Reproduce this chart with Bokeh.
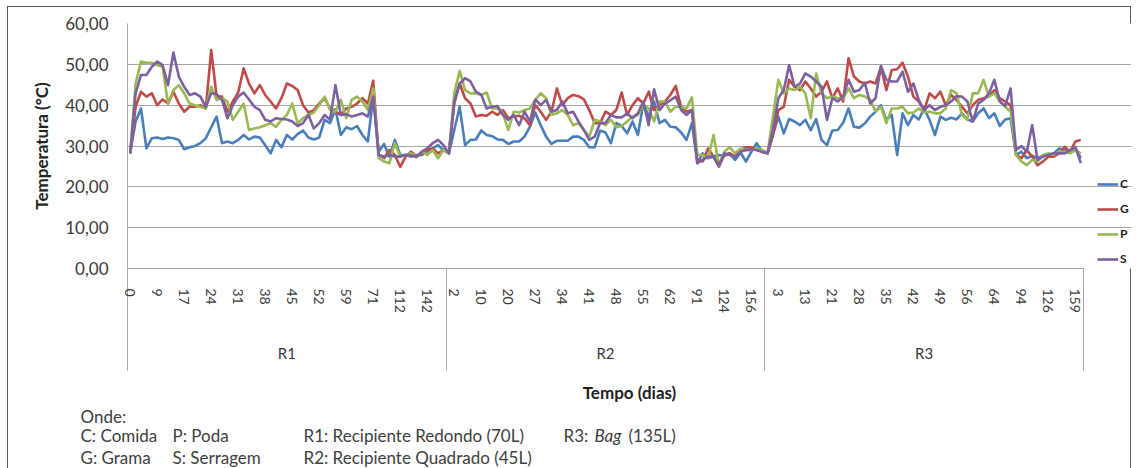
import numpy as np
from bokeh.plotting import figure
from bokeh.layouts import column
from bokeh.models import (Range1d, LinearAxis, FixedTicker, Legend, LegendItem,
                          ColumnDataSource)
from bokeh.core.properties import value
from bokeh.embed import file_html
from bokeh.resources import INLINE

# ---------------- data ----------------
groups = ["R1", "R2", "R3"]
points_per_group = 59
label_every = 5
day_labels_r1 = ["0", "9", "17", "24", "31", "38", "45", "52", "59", "71", "112", "142"]
day_labels_r2 = ["2", "10", "20", "27", "34", "41", "48", "55", "62", "91", "124", "156"]
day_labels_r3 = ["3", "13", "21", "28", "35", "42", "49", "56", "64", "94", "126", "159"]
y_ticks = [0, 10, 20, 30, 40, 50, 60]

C_r1 = [28.2, 36.0, 39.2, 29.4, 31.9, 32.1, 31.7, 32.1, 31.9, 31.5,
        29.2, 29.7, 30.0, 30.7, 31.9, 34.6, 37.2, 30.7, 31.1, 30.7,
        31.5, 32.7, 31.6, 32.3, 32.1, 30.2, 28.2, 31.5, 29.7, 32.7,
        31.6, 32.9, 33.8, 32.1, 31.6, 32.1, 36.4, 35.6, 39.0, 32.7,
        34.6, 34.1, 34.9, 32.7, 31.1, 42.1, 28.6, 30.5, 27.4, 31.5,
        27.8, 27.8, 27.4, 27.8, 27.8, 28.6, 29.4, 30.2, 29.0]
G_r1 = [28.2, 39.6, 43.3, 42.1, 42.9, 40.0, 41.4, 40.4, 43.3, 40.4,
        38.4, 39.6, 39.6, 40.0, 39.2, 53.5, 42.1, 42.1, 38.4, 40.9,
        43.1, 49.0, 45.3, 42.9, 44.9, 42.5, 40.9, 39.2, 41.7, 45.3,
        44.7, 43.7, 40.0, 38.2, 38.8, 40.4, 41.7, 39.2, 38.4, 37.6,
        39.2, 39.6, 40.4, 41.7, 40.4, 46.0, 27.8, 27.0, 29.0, 27.8,
        24.9, 27.4, 28.6, 27.4, 28.2, 29.0, 29.4, 28.2, 29.0]
P_r1 = [28.2, 45.3, 50.7, 50.4, 50.4, 49.8, 49.4, 40.4, 43.7, 44.9,
        42.9, 40.4, 40.0, 39.6, 39.2, 44.5, 41.3, 41.7, 40.9, 36.4,
        38.4, 40.4, 33.9, 34.3, 34.6, 35.1, 35.6, 34.7, 36.4, 37.6,
        40.4, 35.6, 36.8, 37.6, 38.2, 40.0, 42.1, 38.8, 38.4, 41.3,
        36.8, 41.3, 42.1, 40.9, 38.8, 44.1, 27.0, 26.2, 25.8, 30.7,
        27.4, 27.8, 28.2, 27.2, 28.6, 27.8, 29.0, 27.0, 29.0]
S_r1 = [28.2, 42.9, 47.4, 47.4, 49.4, 50.7, 49.8, 44.9, 52.9, 47.0,
        44.5, 42.5, 42.9, 42.1, 39.6, 42.9, 42.7, 41.3, 36.8, 40.0,
        42.1, 43.1, 41.4, 39.6, 38.8, 36.4, 36.0, 36.8, 36.6, 36.5,
        36.0, 34.9, 35.6, 37.6, 34.3, 35.6, 37.6, 36.4, 44.9, 37.6,
        37.8, 37.2, 37.6, 38.0, 37.2, 42.1, 27.8, 27.4, 27.8, 27.4,
        27.4, 27.8, 27.6, 27.4, 28.6, 29.4, 30.7, 31.5, 30.2]

C_r2 = [28.2, 33.9, 39.6, 30.2, 31.5, 31.6, 33.8, 32.7, 32.4, 31.6,
        31.5, 30.5, 31.1, 31.1, 32.3, 34.7, 38.2, 35.1, 32.3, 30.5,
        31.3, 31.3, 31.3, 32.3, 32.3, 31.5, 29.7, 29.7, 33.8, 33.3,
        30.7, 35.6, 34.9, 33.1, 36.0, 32.7, 40.4, 37.2, 40.9, 35.6,
        36.4, 34.7, 34.6, 33.3, 31.5, 35.6, 25.8, 28.2, 27.0, 27.4,
        27.8, 27.6, 28.2, 26.6, 28.4, 26.2, 28.6, 30.7, 28.6]
G_r2 = [28.2, 40.4, 45.3, 41.7, 40.4, 37.2, 37.6, 37.4, 38.4, 37.6,
        38.8, 36.8, 37.2, 37.4, 36.8, 35.1, 40.0, 38.4, 36.4, 38.4,
        44.1, 40.0, 41.7, 42.5, 42.2, 41.4, 38.8, 35.6, 35.6, 38.4,
        37.6, 38.8, 43.1, 37.6, 40.0, 41.7, 40.4, 43.3, 38.8, 40.0,
        40.9, 42.5, 44.7, 39.6, 38.4, 38.8, 26.6, 26.2, 29.4, 27.4,
        24.9, 27.8, 28.2, 27.4, 29.0, 29.7, 29.7, 29.0, 29.0]
P_r2 = [28.2, 42.9, 48.4, 43.7, 42.9, 42.9, 42.5, 43.1, 39.2, 39.2,
        38.0, 33.9, 38.4, 38.2, 38.8, 39.2, 41.3, 42.9, 41.7, 37.6,
        38.0, 38.8, 37.6, 35.1, 35.6, 33.9, 32.3, 36.4, 36.0, 35.1,
        36.4, 34.6, 34.9, 36.0, 37.2, 37.6, 40.0, 39.2, 36.0, 40.9,
        40.9, 38.4, 39.6, 39.6, 39.2, 41.9, 27.8, 27.8, 27.0, 32.7,
        25.3, 28.6, 29.7, 28.2, 29.4, 29.0, 29.0, 29.4, 29.0]
S_r2 = [28.2, 40.9, 45.3, 46.6, 45.8, 43.3, 42.5, 39.2, 39.6, 39.8,
        37.6, 36.4, 37.6, 35.1, 38.4, 36.0, 41.4, 40.0, 41.3, 38.4,
        38.8, 40.9, 38.0, 38.4, 36.0, 33.9, 31.5, 32.3, 35.6, 35.6,
        37.6, 37.0, 37.0, 38.0, 36.8, 38.0, 40.9, 35.1, 43.9, 38.8,
        40.4, 41.2, 42.1, 38.8, 37.6, 38.8, 25.8, 26.6, 27.4, 27.4,
        25.3, 28.2, 27.8, 27.2, 28.6, 29.0, 29.2, 29.0, 28.5]

C_r3 = [28.2, 32.7, 37.2, 33.1, 36.6, 36.0, 35.1, 36.4, 33.9, 36.6,
        31.5, 30.2, 33.8, 33.9, 35.7, 39.2, 34.7, 34.5, 35.5, 37.2,
        38.4, 40.0, 36.4, 37.6, 27.8, 38.0, 35.1, 37.6, 36.5, 39.2,
        36.4, 32.7, 37.2, 36.4, 36.9, 36.5, 38.0, 36.5, 36.0, 38.0,
        39.2, 36.8, 38.0, 34.9, 36.5, 36.8, 27.8, 28.6, 27.0, 27.6,
        27.0, 27.6, 27.8, 28.2, 29.4, 29.0, 28.6, 29.4, 27.0]
G_r3 = [28.2, 32.7, 38.8, 39.6, 46.2, 44.5, 43.7, 45.8, 44.1, 42.1,
        43.3, 45.8, 41.7, 44.1, 40.9, 51.5, 47.0, 45.8, 45.3, 45.8,
        45.3, 49.4, 43.7, 48.6, 48.8, 50.4, 47.0, 42.1, 40.9, 38.8,
        42.9, 41.7, 43.3, 40.0, 42.5, 41.3, 39.6, 38.0, 40.0, 41.3,
        41.7, 42.2, 43.7, 41.7, 40.9, 40.0, 27.8, 27.0, 29.0, 27.4,
        25.3, 26.2, 27.4, 27.4, 28.2, 29.8, 28.6, 31.1, 31.5]
P_r3 = [28.2, 37.2, 46.2, 42.9, 44.1, 43.7, 44.5, 42.9, 36.8, 47.8,
        42.9, 41.7, 42.1, 41.7, 41.7, 44.1, 41.7, 42.5, 42.1, 41.4,
        38.4, 39.6, 35.6, 39.2, 39.2, 39.6, 38.0, 38.2, 39.2, 38.2,
        38.4, 38.0, 38.0, 39.2, 43.7, 42.9, 37.6, 36.4, 42.9, 42.9,
        46.2, 42.1, 42.9, 40.9, 39.6, 38.4, 27.8, 26.2, 25.3, 26.6,
        26.2, 27.8, 28.2, 27.8, 28.6, 28.6, 28.2, 29.0, 28.2]
S_r3 = [28.2, 33.9, 41.7, 43.7, 49.8, 44.5, 45.3, 47.8, 47.0, 45.8,
        44.5, 36.4, 41.7, 40.9, 42.1, 46.2, 43.3, 43.7, 45.5, 40.4,
        41.7, 49.6, 46.2, 45.8, 45.8, 48.2, 43.3, 45.3, 41.3, 38.8,
        40.0, 38.8, 39.6, 40.0, 40.9, 42.2, 42.1, 40.9, 36.0, 40.4,
        41.3, 42.9, 46.2, 40.9, 39.8, 44.1, 29.0, 30.0, 28.6, 35.1,
        26.6, 27.4, 27.8, 28.2, 28.2, 28.2, 29.0, 29.8, 25.8]

series_names = ["C", "G", "P", "S"]
series_colors = ["#4A7EBB", "#BE4B48", "#98B954", "#7D60A0"]

# abbreviations shown under the chart
note_title = "Onde:"
note_row1 = ["C: Comida", "P: Poda", "R1: Recipiente  Redondo (70L)"]
note_row2 = ["G: Grama", "S: Serragem", "R2: Recipiente  Quadrado (45L)"]
note_r3 = ["R3: ", "Bag", "(135L)"]

# ---------------- derived ----------------
n_total = points_per_group * len(groups)
idx = np.arange(n_total)
series = {
    "C": C_r1 + C_r2 + C_r3,
    "G": G_r1 + G_r2 + G_r3,
    "P": P_r1 + P_r2 + P_r3,
    "S": S_r1 + S_r2 + S_r3,
}
src = ColumnDataSource(dict(x=idx, **series))

tick_pos = list(range(0, n_total, label_every))
tick_text = day_labels_r1 + day_labels_r2 + day_labels_r3
boundaries = [g * points_per_group - 0.5 for g in range(len(groups) + 1)]
centers = [g * points_per_group + (points_per_group - 1) / 2 for g in range(len(groups))]
x_bounds = (-0.5, n_total - 0.5)

FONT = "Lato"
TXT = "#3a3a3a"
GRID = "#a6a6a6"
EDGE = "#5a5a5a"

# whole chart area is shifted by a small page offset (outer border)
OX, OY = 7, 6
W = 1131 - OX
H_MAIN = 405 - OY
H_NOTES = 63
FRAME_TOP = 23 - OY
FRAME_BOTTOM = 268 - OY
FRAME_LEFT = 127 - OX
DATA_RIGHT = 1083 - OX      # where the category axis ends; legend lives to its right
px_per_cat = (DATA_RIGHT - FRAME_LEFT) / n_total
x_end = x_bounds[1] + (W - DATA_RIGHT) / px_per_cat

p = figure(width=W, height=H_MAIN, output_backend="svg", toolbar_location=None,
           x_range=Range1d(x_bounds[0], x_end), y_range=Range1d(0, 60),
           min_border_left=FRAME_LEFT, min_border_right=0,
           min_border_top=FRAME_TOP, min_border_bottom=H_MAIN - FRAME_BOTTOM,
           x_axis_location=None, y_axis_location=None)
p.frame_align = False
p.outline_line_color = None
p.background_fill_color = "white"
p.border_fill_alpha = 0
p.styles = {"box-shadow": f"inset 1px 1px 0 {EDGE}, inset -1px 0 0 {EDGE}",
            "margin-left": f"{OX}px", "margin-top": f"{OY}px"}

# y axis
yax = LinearAxis(ticker=FixedTicker(ticks=y_ticks),
                 major_label_overrides={float(v): f"{v:.2f}".replace(".", ",") for v in y_ticks},
                 axis_label="Temperatura (°C)")
yax.axis_line_color = GRID
yax.major_tick_line_color = None
yax.minor_tick_line_color = None
yax.major_tick_out = 0
yax.major_label_standoff = 19
yax.major_label_text_font = FONT
yax.major_label_text_font_size = "17px"
yax.major_label_text_color = TXT
yax.axis_label_text_font = FONT
yax.axis_label_text_font_size = "17px"
yax.axis_label_text_font_style = "bold"
yax.axis_label_text_color = "#222222"
yax.axis_label_standoff = 10
p.add_layout(yax, "left")

p.ygrid.ticker = FixedTicker(ticks=y_ticks)
p.ygrid.grid_line_color = GRID
p.ygrid.bounds = x_bounds
p.xgrid.visible = False

# day axis; its long minor ticks are the group separators
SEP_LEN = 102
dax = LinearAxis(ticker=FixedTicker(ticks=tick_pos, minor_ticks=boundaries),
                 major_label_overrides={float(t): s for t, s in zip(tick_pos, tick_text)},
                 bounds=x_bounds)
dax.axis_line_color = GRID
dax.major_tick_line_color = None
dax.major_tick_out = 0
dax.major_tick_in = 0
dax.minor_tick_line_color = GRID
dax.minor_tick_out = SEP_LEN
dax.minor_tick_in = 0
dax.major_label_orientation = "vertical"
dax.major_label_standoff = 20 - SEP_LEN
dax.major_label_text_font = FONT
dax.major_label_text_font_size = "14px"
dax.major_label_text_color = TXT
p.add_layout(dax, "below")

# group axis
gax = LinearAxis(ticker=FixedTicker(ticks=centers),
                 major_label_overrides={float(c): g for c, g in zip(centers, groups)},
                 axis_label="Tempo (dias)", bounds=x_bounds)
gax.axis_line_color = None
gax.major_tick_line_color = None
gax.minor_tick_line_color = None
gax.major_tick_out = 0
gax.major_tick_in = 0
gax.major_label_standoff = 28
gax.major_label_text_font = FONT
gax.major_label_text_font_size = "15px"
gax.major_label_text_color = TXT
gax.axis_label_text_font = FONT
gax.axis_label_text_font_size = "17px"
gax.axis_label_text_font_style = "bold"
gax.axis_label_text_color = "#222222"
gax.axis_label_standoff = 17
p.add_layout(gax, "below")

# lines
items = []
for name, col in zip(series_names, series_colors):
    r = p.line("x", name, source=src, line_color=col, line_width=2.6, line_join="round")
    items.append(LegendItem(label=name, renderers=[r]))

legend = Legend(items=items, location=(1097 - OX - FRAME_LEFT, 2), orientation="vertical")
legend.label_text_font = FONT
legend.label_text_font_size = "12px"
legend.label_text_font_style = "bold"
legend.label_text_color = "#222222"
legend.glyph_width = 21
legend.glyph_height = 14
legend.label_height = 14
legend.label_standoff = 2
legend.spacing = 10
legend.padding = 0
legend.margin = 0
legend.border_line_color = None
legend.background_fill_alpha = 0
p.add_layout(legend)

# notes figure (pixel coordinates, y downwards)
nf = figure(width=W, height=H_NOTES, output_backend="svg", toolbar_location=None,
            x_range=Range1d(0, W), y_range=Range1d(H_NOTES, 0),
            min_border_left=0, min_border_right=0, min_border_top=0, min_border_bottom=0,
            x_axis_location=None, y_axis_location=None)
nf.frame_align = False
nf.outline_line_color = None
nf.grid.visible = False
nf.background_fill_alpha = 0
nf.border_fill_alpha = 0
nf.styles = {"box-shadow": f"inset 1px 0 0 {EDGE}, inset -1px 0 0 {EDGE}",
             "margin-left": f"{OX}px"}

col_x = [80 - OX, 172 - OX, 303 - OX]
row_y = [11, 30, 52]
r3_x = [563 - OX, 594 - OX, 628 - OX]
note_kw = dict(text_font=value(FONT), text_font_size="17px", text_color="#404040",
               text_baseline="middle", text_align="left")
nf.text(x=[col_x[0]], y=[row_y[0]], text=[note_title], **note_kw)
nf.text(x=col_x, y=[row_y[1]] * 3, text=note_row1, **note_kw)
nf.text(x=col_x, y=[row_y[2]] * 3, text=note_row2, **note_kw)
nf.text(x=[r3_x[0], r3_x[2]], y=[row_y[1]] * 2, text=[note_r3[0], note_r3[2]], **note_kw)
nf.text(x=[r3_x[1]], y=[row_y[1]], text=[note_r3[1]], text_font_style="italic", **note_kw)

layout = column(p, nf, spacing=0)

open("out.html", "w").write(file_html(layout, INLINE))
